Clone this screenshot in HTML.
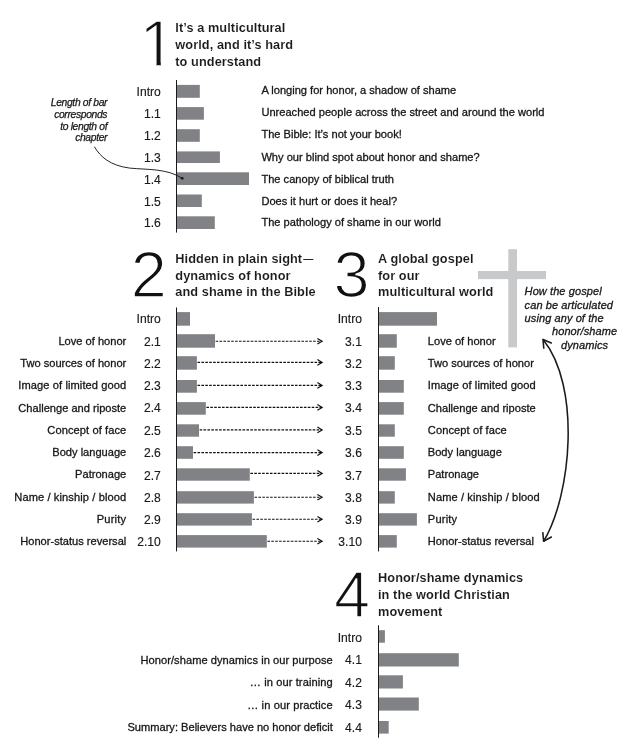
<!DOCTYPE html>
<html lang="en"><head><meta charset="utf-8"><title>Honor and shame chapter map</title>
<style>
html,body{margin:0;padding:0;background:#fff;}
body{width:628px;height:746px;overflow:hidden;}
svg{display:block;font-family:"Liberation Sans",sans-serif;will-change:transform;}
.big{font-size:64.9px;fill:#111;stroke:#fff;stroke-width:1.6px;}
.ttl{font-size:12.74px;font-weight:bold;fill:#1a1a1a;stroke:#fff;stroke-width:0.08px;letter-spacing:0.08px;}
.emd{font-size:9.6px;}
.num{font-size:12.1px;fill:#1a1a1a;text-anchor:end;stroke:#1a1a1a;stroke-width:0.15px;}
.lab{font-size:11.1px;fill:#171717;stroke:#171717;stroke-width:0.3px;}
.labr{font-size:11.1px;fill:#171717;text-anchor:end;stroke:#171717;stroke-width:0.3px;}
.ann1{font-size:10.3px;font-style:italic;fill:#171717;text-anchor:end;letter-spacing:-0.33px;stroke:#171717;stroke-width:0.25px;}
.ann2{font-size:11px;font-style:italic;fill:#171717;stroke:#171717;stroke-width:0.3px;letter-spacing:0.09px;}
.bar{fill:#808285;}
.axis{stroke:#1a1a1a;stroke-width:1;fill:none;}
.dash{stroke:#111;stroke-width:1.15;stroke-dasharray:2.6 1.3;fill:none;}
.ah{stroke:#111;stroke-width:1.2;fill:none;stroke-linecap:butt;stroke-linejoin:miter;}
.curve{stroke:#1a1a1a;fill:none;}
</style></head><body>
<svg width="628" height="746" viewBox="0 0 628 746">
<rect width="628" height="746" fill="#fff"/>
<clipPath id="nofoot"><path d="M125 0H175V60.4H160.75V72H156.55V60.4H125Z"/></clipPath>
<text class="big" x="139.55" y="66.3" style="font-size:64.5px" clip-path="url(#nofoot)">1</text>
<text class="ttl" x="175.3" y="32.0">It’s a multicultural</text>
<text class="ttl" x="175.3" y="48.8">world, and it’s hard</text>
<text class="ttl" x="175.3" y="65.7">to understand</text>
<line class="axis" x1="176.5" y1="80" x2="176.5" y2="232.6"/>
<rect class="bar" x="177.0" y="84.9" width="22.8" height="12.9"/>
<rect class="bar" x="177.0" y="107.1" width="26.9" height="12.6"/>
<rect class="bar" x="177.0" y="129.2" width="22.8" height="12.6"/>
<rect class="bar" x="177.0" y="151.4" width="42.9" height="11.6"/>
<rect class="bar" x="177.0" y="172.3" width="72.0" height="12.7"/>
<rect class="bar" x="177.0" y="194.5" width="24.8" height="12.5"/>
<rect class="bar" x="177.0" y="216.3" width="37.8" height="12.7"/>
<text class="num" x="160.8" y="96.0">Intro</text>
<text class="num" x="160.8" y="118.0">1.1</text>
<text class="num" x="160.8" y="140.0">1.2</text>
<text class="num" x="160.8" y="162.0">1.3</text>
<text class="num" x="160.8" y="184.0">1.4</text>
<text class="num" x="160.8" y="206.0">1.5</text>
<text class="num" x="160.8" y="227.0">1.6</text>
<text class="lab" x="261.4" y="94.0">A longing for honor, a shadow of shame</text>
<text class="lab" x="261.4" y="116.0">Unreached people across the street and around the world</text>
<text class="lab" x="261.4" y="138.0">The Bible: It’s not your book!</text>
<text class="lab" x="261.4" y="161.0">Why our blind spot about honor and shame?</text>
<text class="lab" x="261.4" y="183.0">The canopy of biblical truth</text>
<text class="lab" x="261.4" y="205.0">Does it hurt or does it heal?</text>
<text class="lab" x="261.4" y="226.0">The pathology of shame in our world</text>
<text class="ann1" x="107.2" y="105.8">Length of bar</text>
<text class="ann1" x="107.2" y="117.7">corresponds</text>
<text class="ann1" x="107.2" y="129.6">to length of</text>
<text class="ann1" x="107.2" y="141.4">chapter</text>
<path class="curve" stroke-width="0.95" d="M94.4 146.7 C100.5 157 110 165.5 129.7 168.1 C147 169.8 167 168.3 182.2 178.3"/>
<circle cx="182.2" cy="178.3" r="1.4" fill="#1a1a1a"/>
<text class="big" x="130.7" y="296.9">2</text>
<text class="ttl" x="175.3" y="262.7">Hidden in plain sight<tspan class="emd" dx="1.3" dy="-0.6" stroke="#1a1a1a" stroke-width="0.3">—</tspan></text>
<text class="ttl" x="175.3" y="279.5">dynamics of honor</text>
<text class="ttl" x="175.3" y="296.2">and shame in the Bible</text>
<line class="axis" x1="176.5" y1="307.5" x2="176.5" y2="551.4"/>
<rect class="bar" x="177.0" y="312.1" width="13.0" height="13.6"/>
<rect class="bar" x="177.0" y="334.2" width="38.0" height="13.5"/>
<rect class="bar" x="177.0" y="356.2" width="19.9" height="13.5"/>
<rect class="bar" x="177.0" y="380.0" width="19.9" height="12.7"/>
<rect class="bar" x="177.0" y="402.1" width="28.8" height="12.6"/>
<rect class="bar" x="177.0" y="424.3" width="22.0" height="12.4"/>
<rect class="bar" x="177.0" y="446.2" width="16.0" height="12.6"/>
<rect class="bar" x="177.0" y="468.3" width="72.8" height="12.4"/>
<rect class="bar" x="177.0" y="491.2" width="76.9" height="12.4"/>
<rect class="bar" x="177.0" y="513.2" width="74.9" height="12.4"/>
<rect class="bar" x="177.0" y="535.1" width="89.8" height="12.5"/>
<text class="num" x="160.8" y="323.1">Intro</text>
<text class="num" x="160.8" y="345.7">2.1</text>
<text class="num" x="160.8" y="367.8">2.2</text>
<text class="num" x="160.8" y="390.4">2.3</text>
<text class="num" x="160.8" y="412.2">2.4</text>
<text class="num" x="160.8" y="434.5">2.5</text>
<text class="num" x="160.8" y="456.8">2.6</text>
<text class="num" x="160.8" y="479.7">2.7</text>
<text class="num" x="160.8" y="501.7">2.8</text>
<text class="num" x="160.8" y="523.5">2.9</text>
<text class="num" x="160.8" y="545.9">2.10</text>
<text class="labr" x="126.3" y="345.0">Love of honor</text>
<text class="labr" x="126.3" y="367.0">Two sources of honor</text>
<text class="labr" x="126.3" y="389.0" letter-spacing="0.09">Image of limited good</text>
<text class="labr" x="126.3" y="412.0">Challenge and riposte</text>
<text class="labr" x="126.3" y="434.0" letter-spacing="0.085">Concept of face</text>
<text class="labr" x="126.3" y="456.0">Body language</text>
<text class="labr" x="126.3" y="478.0">Patronage</text>
<text class="labr" x="126.3" y="501.0" letter-spacing="0.1">Name / kinship / blood</text>
<text class="labr" x="126.3" y="523.0" letter-spacing="0.2">Purity</text>
<text class="labr" x="126.3" y="545.0">Honor-status reversal</text>
<line class="dash" x1="215.6" y1="341.2" x2="321.6" y2="341.2"/>
<path class="ah" d="M317.4 338.4 L322.1 341.2 L317.4 344.0"/>
<line class="dash" x1="197.5" y1="362.4" x2="321.6" y2="362.4"/>
<path class="ah" d="M317.4 359.6 L322.1 362.4 L317.4 365.2"/>
<line class="dash" x1="197.5" y1="385.4" x2="321.6" y2="385.4"/>
<path class="ah" d="M317.4 382.6 L322.1 385.4 L317.4 388.2"/>
<line class="dash" x1="206.4" y1="407.4" x2="321.6" y2="407.4"/>
<path class="ah" d="M317.4 404.6 L322.1 407.4 L317.4 410.2"/>
<line class="dash" x1="199.6" y1="429.9" x2="321.6" y2="429.9"/>
<path class="ah" d="M317.4 427.1 L322.1 429.9 L317.4 432.7"/>
<line class="dash" x1="193.6" y1="452.6" x2="321.6" y2="452.6"/>
<path class="ah" d="M317.4 449.8 L322.1 452.6 L317.4 455.4"/>
<line class="dash" x1="250.4" y1="473.4" x2="321.6" y2="473.4"/>
<path class="ah" d="M317.4 470.6 L322.1 473.4 L317.4 476.2"/>
<line class="dash" x1="254.5" y1="497.2" x2="321.6" y2="497.2"/>
<path class="ah" d="M317.4 494.4 L322.1 497.2 L317.4 500.0"/>
<line class="dash" x1="252.5" y1="519.2" x2="321.6" y2="519.2"/>
<path class="ah" d="M317.4 516.4 L322.1 519.2 L317.4 522.0"/>
<line class="dash" x1="267.4" y1="541.2" x2="321.6" y2="541.2"/>
<path class="ah" d="M317.4 538.4 L322.1 541.2 L317.4 544.0"/>
<text class="big" x="333.4" y="296.9">3</text>
<text class="ttl" x="378.0" y="262.7">A global gospel</text>
<text class="ttl" x="378.0" y="279.5">for our</text>
<text class="ttl" x="378.0" y="296.2">multicultural world</text>
<line class="axis" x1="378.5" y1="307" x2="378.5" y2="551.4"/>
<rect class="bar" x="379.0" y="312.1" width="58.0" height="13.6"/>
<rect class="bar" x="379.0" y="334.2" width="17.8" height="13.5"/>
<rect class="bar" x="379.0" y="356.2" width="15.8" height="13.5"/>
<rect class="bar" x="379.0" y="380.0" width="24.8" height="12.7"/>
<rect class="bar" x="379.0" y="402.1" width="24.8" height="12.6"/>
<rect class="bar" x="379.0" y="424.3" width="15.8" height="12.4"/>
<rect class="bar" x="379.0" y="446.2" width="24.8" height="12.6"/>
<rect class="bar" x="379.0" y="468.3" width="26.9" height="12.4"/>
<rect class="bar" x="379.0" y="491.2" width="15.8" height="12.4"/>
<rect class="bar" x="379.0" y="513.2" width="37.9" height="12.4"/>
<rect class="bar" x="379.0" y="535.1" width="17.8" height="12.5"/>
<text class="num" x="361.9" y="323.1">Intro</text>
<text class="num" x="361.9" y="345.7">3.1</text>
<text class="num" x="361.9" y="367.8">3.2</text>
<text class="num" x="361.9" y="390.4">3.3</text>
<text class="num" x="361.9" y="412.2">3.4</text>
<text class="num" x="361.9" y="434.5">3.5</text>
<text class="num" x="361.9" y="456.8">3.6</text>
<text class="num" x="361.9" y="479.7">3.7</text>
<text class="num" x="361.9" y="501.7">3.8</text>
<text class="num" x="361.9" y="523.5">3.9</text>
<text class="num" x="361.9" y="545.9">3.10</text>
<text class="lab" x="427.8" y="345.0">Love of honor</text>
<text class="lab" x="427.8" y="367.0">Two sources of honor</text>
<text class="lab" x="427.8" y="389.0" letter-spacing="0.09">Image of limited good</text>
<text class="lab" x="427.8" y="412.0">Challenge and riposte</text>
<text class="lab" x="427.8" y="434.0" letter-spacing="0.085">Concept of face</text>
<text class="lab" x="427.8" y="456.0">Body language</text>
<text class="lab" x="427.8" y="478.0">Patronage</text>
<text class="lab" x="427.8" y="501.0" letter-spacing="0.1">Name / kinship / blood</text>
<text class="lab" x="427.8" y="523.0" letter-spacing="0.2">Purity</text>
<text class="lab" x="427.8" y="545.0">Honor-status reversal</text>
<rect x="508.3" y="249.2" width="8.7" height="98.2" fill="#c8c9cb"/>
<rect x="478" y="271" width="68" height="8.1" fill="#c8c9cb"/>
<text class="ann2" x="524.6" y="295.1">How the gospel</text>
<text class="ann2" x="524.6" y="308.5">can be articulated</text>
<text class="ann2" x="524.6" y="321.8">using any of the</text>
<text class="ann2" x="584.6" y="335.1" text-anchor="middle">honor/shame</text>
<text class="ann2" x="584.6" y="348.9" text-anchor="middle">dynamics</text>
<path class="curve" stroke-width="1.55" d="M542.9 339.2 C581.1 386.1 571.6 494.9 543.5 541.5"/>
<path class="curve" stroke-width="1.55" stroke-linejoin="round" d="M543.8 348.8 L543.0 339.5 L551.8 343.3"/>
<path class="curve" stroke-width="1.55" stroke-linejoin="round" d="M542.8 532.1 L543.6 541.3 L551.8 536.8"/>
<text class="big" x="334.1" y="617.3">4</text>
<text class="ttl" x="378.0" y="582.4">Honor/shame dynamics</text>
<text class="ttl" x="378.0" y="599.1">in the world Christian</text>
<text class="ttl" x="378.0" y="615.8">movement</text>
<line class="axis" x1="378.5" y1="625.3" x2="378.5" y2="737.7"/>
<rect class="bar" x="379.0" y="630.2" width="5.9" height="12.5"/>
<rect class="bar" x="379.0" y="653.2" width="79.8" height="13.3"/>
<rect class="bar" x="379.0" y="675.3" width="23.9" height="13.2"/>
<rect class="bar" x="379.0" y="697.5" width="39.8" height="13.1"/>
<rect class="bar" x="379.0" y="721.0" width="9.7" height="12.6"/>
<text class="num" x="361.9" y="642.0">Intro</text>
<text class="num" x="361.9" y="664.0">4.1</text>
<text class="num" x="361.9" y="687.0">4.2</text>
<text class="num" x="361.9" y="709.0">4.3</text>
<text class="num" x="361.9" y="732.0">4.4</text>
<text class="labr" x="332.8" y="664.0" letter-spacing="0.05">Honor/shame dynamics in our purpose</text>
<text class="labr" x="332.8" y="686.0" letter-spacing="0.09">… in our training</text>
<text class="labr" x="332.8" y="709.0" letter-spacing="0.1">… in our practice</text>
<text class="labr" x="332.8" y="731.0">Summary: Believers have no honor deficit</text>
</svg></body></html>
